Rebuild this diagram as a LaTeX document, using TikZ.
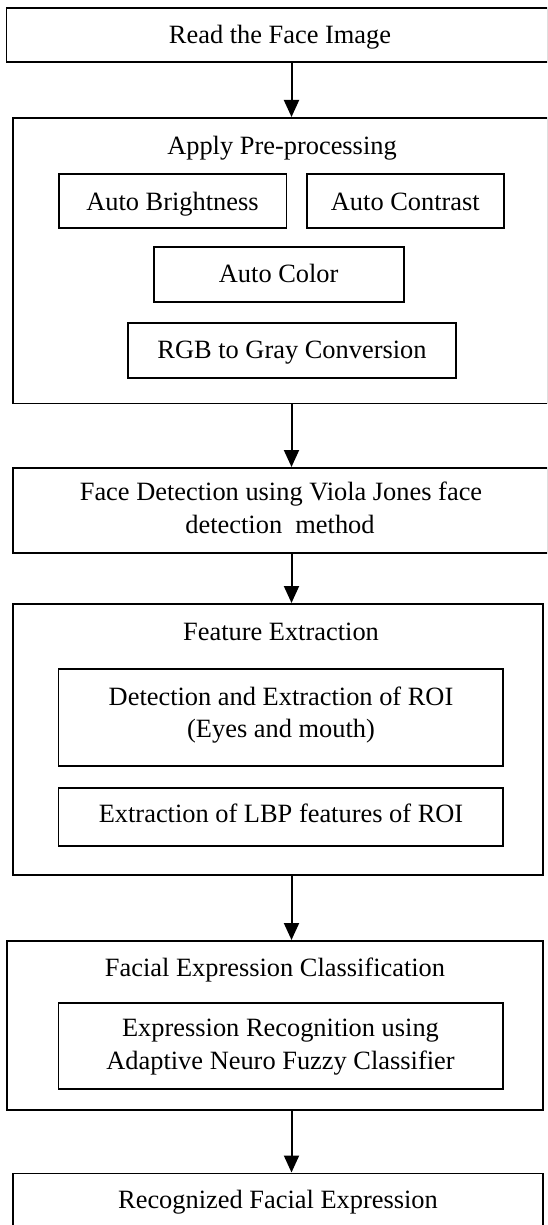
\documentclass[tikz,border=0pt]{standalone}
\usepackage{fontspec}
\setmainfont{Liberation Serif}
\usetikzlibrary{arrows.meta}
\begin{document}
\begin{tikzpicture}[x=1pt,y=-1pt,
  boxbase/.style={draw=black, line width=1.8pt, fill=none, inner sep=0pt, outer sep=0pt, anchor=north west},
  lbl/.style={inner sep=0pt, anchor=base, font=\fontsize{26.4}{32}\selectfont},
  arr/.style={line width=2pt, -{Triangle[width=15pt,length=17pt]}}]
\useasboundingbox (0,0) rectangle (547,1225);
\fill[white] (0,0) rectangle (547,1225);
\clip (0,0) rectangle (547,1225);
% outer boxes
\node[boxbase, minimum width=541.5pt, minimum height=54pt] (b1) at (6.5,8) {};
\node[boxbase, minimum width=534.7pt, minimum height=285.5pt] (b2) at (13.3,118) {};
\node[boxbase, minimum width=534.7pt, minimum height=85pt] (b3) at (13.3,468) {};
\node[boxbase, minimum width=529.7pt, minimum height=271pt] (b4) at (13.3,604) {};
\node[boxbase, minimum width=536.3pt, minimum height=169pt] (b5) at (6.7,941) {};
\node[boxbase, minimum width=529.7pt, minimum height=70pt] (b6) at (13.3,1173.5) {};
% inner boxes
\node[boxbase, minimum width=227.8pt, minimum height=53.7pt] (ab) at (58.6,174) {};
\node[boxbase, minimum width=196.7pt, minimum height=53.7pt] (ac) at (307,174) {};
\node[boxbase, minimum width=249.8pt, minimum height=54.7pt] (ak) at (153.8,247) {};
\node[boxbase, minimum width=328pt, minimum height=55pt] (rg) at (128,322.7) {};
\node[boxbase, minimum width=444.5pt, minimum height=97pt] (i1) at (58.5,669) {};
\node[boxbase, minimum width=444.5pt, minimum height=58pt] (i2) at (58.5,788) {};
\node[boxbase, minimum width=444.5pt, minimum height=86pt] (i3) at (58.5,1003) {};
% labels
\node[lbl] (t1) at (280,44) {Read the Face Image};
\node[lbl] (t2) at (282,155) {Apply Pre-processing};
\node[lbl] (tab) at (ab.center |- 0,210) {Auto Brightness};
\node[lbl] (tac) at (ac.center |- 0,210) {Auto Contrast};
\node[lbl] (tak) at (ak.center |- 0,282.7) {Auto Color};
\node[lbl] (trg) at (rg.center |- 0,358.3) {RGB to Gray Conversion};
\node[lbl] (t3a) at (281,500) {Face Detection using Viola Jones face};
\node[lbl] (t3b) at (280,533) {detection\ \ method};
\node[lbl] (t4) at (281,640) {Feature Extraction};
\node[lbl] (ti1a) at (281,705) {Detection and Extraction of ROI};
\node[lbl] (ti1b) at (281,737) {(Eyes and mouth)};
\node[lbl] (ti2) at (281,822.3) {Extraction of LBP features of ROI};
\node[lbl] (t5) at (275,976.7) {Facial Expression Classification};
\node[lbl] (ti3a) at (280.5,1036.7) {Expression Recognition using};
\node[lbl] (ti3b) at (280.5,1069.3) {Adaptive Neuro Fuzzy Classifier};
\node[lbl] (t6) at (278,1208) {Recognized Facial Expression};
% arrows
\coordinate (ax) at (291.5,0);
\draw[arr] (b1.south -| ax) -- ([yshift=1pt]b2.north -| ax);
\draw[arr] (b2.south -| ax) -- ([yshift=1pt]b3.north -| ax);
\draw[arr] (b3.south -| ax) -- ([yshift=1pt]b4.north -| ax);
\draw[arr] (b4.south -| ax) -- ([yshift=1pt]b5.north -| ax);
\draw[arr] (b5.south -| ax) -- ([yshift=1pt]b6.north -| ax);
\end{tikzpicture}
\end{document}
